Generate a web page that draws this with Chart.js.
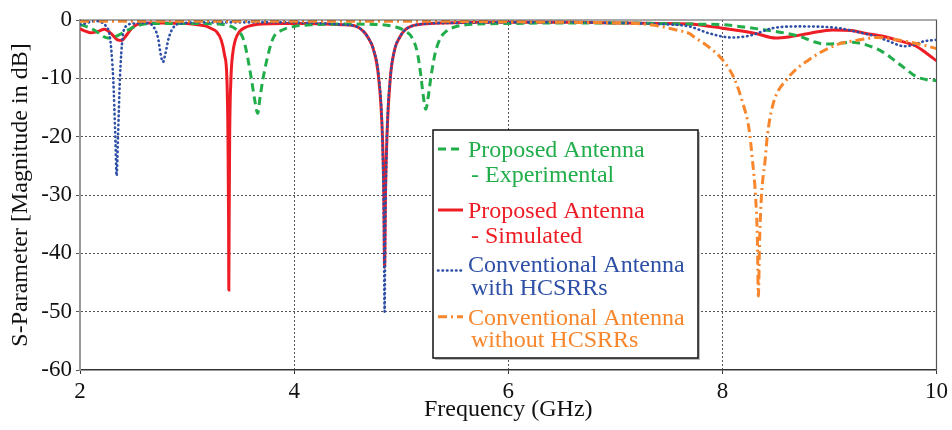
<!DOCTYPE html>
<html>
<head>
<meta charset="utf-8">
<title>S-Parameter</title>
<script src="https://cdn.jsdelivr.net/npm/chart.js@4/dist/chart.umd.min.js"></script>
<style>
    body { margin: 0; background: #fff; }
    canvas { display: block; }
</style>
</head>
<body>
<canvas id="sparam-chart" width="952" height="430"></canvas>
<script>
// frequency (GHz) / S11 (dB) for each antenna
var freqExp = [2.00, 2.07, 2.14, 2.20, 2.26, 2.32, 2.38, 2.45, 2.52, 2.60, 2.70, 2.90, 3.10, 3.30, 3.40, 3.47, 3.52, 3.55, 3.60, 3.63, 3.66, 3.68, 3.71, 3.77, 3.81, 3.87, 4.00, 4.20, 4.50, 4.80, 4.95, 5.03, 5.10, 5.15, 5.18, 5.21, 5.23, 5.25, 5.28, 5.32, 5.37, 5.43, 5.50, 5.70, 6.00, 6.50, 7.00, 7.40, 7.70, 8.00, 8.20, 8.40, 8.60, 8.72, 8.85, 8.95, 9.10, 9.20, 9.35, 9.50, 9.62, 9.72, 9.81, 9.90, 10.00];
var s11Exp = [-0.8, -1.2, -1.8, -2.6, -3.1, -2.9, -2.4, -1.7, -1.1, -0.7, -0.6, -0.6, -0.6, -0.7, -1.0, -1.8, -3.0, -5.0, -10.0, -13.5, -16.0, -13.5, -10.0, -5.0, -2.9, -1.9, -1.1, -0.8, -0.7, -0.8, -1.2, -1.8, -3.0, -5.5, -9.0, -13.5, -15.3, -13.5, -9.5, -5.5, -3.0, -1.8, -1.2, -0.7, -0.6, -0.5, -0.5, -0.6, -0.7, -0.8, -1.2, -1.7, -2.3, -2.8, -3.7, -4.1, -4.0, -3.8, -4.3, -5.5, -7.1, -8.5, -9.7, -10.2, -10.4];

var freqSim = [2.00, 2.05, 2.10, 2.16, 2.23, 2.29, 2.35, 2.39, 2.43, 2.48, 2.53, 2.60, 2.80, 3.00, 3.10, 3.17, 3.23, 3.275, 3.32, 3.35, 3.372, 3.382, 3.388, 3.390, 3.393, 3.398, 3.41, 3.425, 3.45, 3.49, 3.54, 3.585, 3.70, 3.90, 4.10, 4.30, 4.45, 4.58, 4.65, 4.69, 4.74, 4.79, 4.825, 4.838, 4.845, 4.853, 4.867, 4.898, 4.94, 4.985, 5.03, 5.09, 5.20, 5.40, 5.80, 6.20, 6.60, 7.00, 7.40, 7.69, 8.00, 8.31, 8.50, 8.62, 8.81, 9.03, 9.20, 9.34, 9.50, 9.62, 9.81, 9.90, 10.00];
var s11Sim = [-1.5, -1.9, -2.2, -2.0, -1.6, -2.3, -3.4, -3.5, -2.7, -1.5, -0.8, -0.5, -0.5, -0.6, -0.8, -1.0, -1.5, -2.0, -3.5, -6.0, -10.0, -20.0, -35.0, -46.3, -35.0, -20.0, -10.0, -6.0, -3.5, -2.0, -1.3, -1.0, -0.7, -0.6, -0.6, -0.7, -0.8, -1.1, -2.0, -3.0, -5.0, -10.0, -20.0, -30.0, -42.4, -30.0, -20.0, -10.0, -5.0, -3.0, -1.8, -1.1, -0.7, -0.5, -0.4, -0.4, -0.4, -0.5, -0.6, -0.7, -1.4, -2.3, -3.1, -2.9, -2.3, -1.7, -1.8, -2.3, -2.8, -3.4, -4.5, -5.6, -7.0];

var freqWith = [2.00, 2.05, 2.10, 2.15, 2.20, 2.24, 2.28, 2.31, 2.33, 2.342, 2.355, 2.373, 2.398, 2.435, 2.50, 2.58, 2.64, 2.68, 2.728, 2.755, 2.775, 2.795, 2.83, 2.885, 2.95, 3.10, 3.40, 3.80, 4.30, 4.45, 4.58, 4.65, 4.69, 4.74, 4.792, 4.824, 4.838, 4.845, 4.852, 4.867, 4.898, 4.94, 4.985, 5.03, 5.09, 5.20, 5.50, 6.00, 6.50, 7.00, 7.40, 7.69, 7.88, 8.09, 8.25, 8.47, 8.72, 9.09, 9.25, 9.43, 9.55, 9.70, 9.78, 9.87, 10.00];
var s11With = [-0.8, -0.6, -0.3, -0.2, -0.4, -1.0, -3.0, -10.0, -20.0, -26.7, -20.0, -10.0, -3.0, -1.0, -0.6, -0.5, -0.6, -1.0, -3.0, -6.0, -7.2, -6.0, -3.0, -1.0, -0.6, -0.4, -0.4, -0.4, -0.6, -0.8, -1.1, -2.0, -3.0, -5.0, -10.0, -20.0, -35.0, -50.0, -35.0, -20.0, -10.0, -5.0, -3.0, -1.8, -1.1, -0.7, -0.5, -0.4, -0.4, -0.5, -0.7, -1.1, -2.3, -3.0, -2.7, -1.4, -1.1, -1.4, -2.0, -2.8, -3.6, -4.5, -4.3, -3.7, -3.4];

var freqWithout = [2.00, 3.00, 4.00, 5.00, 6.00, 6.60, 7.00, 7.32, 7.57, 7.69, 7.75, 7.85, 8.00, 8.11, 8.19, 8.25, 8.28, 8.31, 8.327, 8.336, 8.348, 8.365, 8.40, 8.42, 8.468, 8.61, 8.81, 9.06, 9.25, 9.45, 9.60, 9.75, 9.90, 10.00];
var s11Without = [-0.2, -0.2, -0.2, -0.2, -0.3, -0.4, -0.5, -0.8, -1.7, -2.3, -3.1, -4.3, -6.8, -10.0, -14.2, -18.8, -23.9, -30.2, -37.6, -47.3, -37.6, -30.2, -23.9, -19.9, -14.8, -10.0, -6.8, -4.3, -3.5, -3.0, -3.3, -3.8, -4.4, -4.9];

var seriesLabels = [
    ['Proposed Antenna', '- Experimental'],
    ['Proposed Antenna', '- Simulated'],
    ['Conventional Antenna', 'with HCSRRs'],
    ['Conventional Antenna', 'without HCSRRs']
];
var seriesColors = ['#22ad4b', '#ee1d25', '#2d4fa6', '#f7862c'];
var xTicks = [2, 4, 6, 8, 10];
var yTicks = [0, -10, -20, -30, -40, -50, -60];

var serif = "'Liberation Serif', 'Times New Roman', serif";
var dashes = [[8, 5], [], [0.5, 4], [9, 4, 2, 4]];
var widths = [3, 3, 2.6, 3];

function toPoints(xs, ys) {
    return xs.map(function(x, i) { return { x: x, y: ys[i] }; });
}

function makeSet(index, xs, ys, order) {
    return {
        label: seriesLabels[index].join(' '),
        data: toPoints(xs, ys),
        borderColor: seriesColors[index],
        borderWidth: widths[index],
        borderDash: dashes[index],
        borderCapStyle: index === 2 ? 'round' : 'butt',
        pointRadius: 0,
        fill: false,
        cubicInterpolationMode: 'monotone',
        order: order
    };
}

// plot frame (top/right) and the boxed legend inside the chart
var frameLegend = {
    id: 'frameLegend',
    afterDraw: function(chart) {
        var c = chart.ctx;
        var a = chart.chartArea;
        c.save();
        c.strokeStyle = '#555';
        c.lineWidth = 1.2;
        c.beginPath();
        c.moveTo(a.left, a.top);
        c.lineTo(a.right, a.top);
        c.lineTo(a.right, a.bottom);
        c.stroke();

        var bx = 433, by = 130, bw = 265, bh = 228;
        c.fillStyle = '#bdbdbd';
        c.fillRect(bx + 2, by + 2, bw, bh);
        c.fillStyle = '#fff';
        c.fillRect(bx, by, bw, bh);
        c.strokeStyle = '#111';
        c.lineWidth = 1.5;
        c.strokeRect(bx, by, bw, bh);

        var baselines = [[156.7, 181.7], [218.3, 243.3], [271.7, 295], [325, 346.7]];
        var sampleY = [149, 210, 270.5, 316.7];
        c.font = '24px ' + serif;
        c.textBaseline = 'alphabetic';
        c.textAlign = 'left';
        seriesLabels.forEach(function(lines, i) {
            c.strokeStyle = seriesColors[i];
            c.lineWidth = widths[i];
            c.setLineDash(dashes[i]);
            c.lineCap = i === 2 ? 'round' : 'butt';
            c.beginPath();
            c.moveTo(438, sampleY[i]);
            c.lineTo(463, sampleY[i]);
            c.stroke();
            c.setLineDash([]);
            c.fillStyle = seriesColors[i];
            c.fillText(lines[0], 468, baselines[i][0]);
            c.fillText(lines[1], 471, baselines[i][1]);
        });
        c.restore();
    }
};

var ctx = document.getElementById('sparam-chart').getContext('2d');
var chart = new Chart(ctx, {
    type: 'line',
    data: {
        datasets: [
            makeSet(0, freqExp, s11Exp, 2),
            makeSet(1, freqSim, s11Sim, 3),
            makeSet(2, freqWith, s11With, 1),
            makeSet(3, freqWithout, s11Without, 0)
        ]
    },
    options: {
        responsive: false,
        animation: false,
        layout: { padding: { top: 20, right: 15, left: 0, bottom: 0 } },
        plugins: {
            legend: { display: false },
            tooltip: { enabled: false }
        },
        scales: {
            x: {
                type: 'linear',
                min: 2,
                max: 10,
                afterBuildTicks: function(scale) {
                    scale.ticks = xTicks.map(function(v) { return { value: v }; });
                },
                afterFit: function(scale) { scale.height = 60; },
                ticks: {
                    color: '#111',
                    padding: 4,
                    maxRotation: 0,
                    font: { family: serif, size: 23 }
                },
                grid: {
                    color: function(c) {
                        return (c.tick && (c.tick.value === 2 || c.tick.value === 10)) ? 'rgba(0,0,0,0)' : '#555';
                    },
                    borderDash: [2, 2],
                    tickColor: '#333',
                    tickLength: 4,
                    lineWidth: 1
                },
                border: { color: '#333', width: 1.5, dash: [2, 2] },
                title: {
                    display: true,
                    text: 'Frequency (GHz)',
                    color: '#111',
                    font: { family: serif, size: 24 },
                    padding: { top: 0, bottom: 6 }
                }
            },
            y: {
                min: -60,
                max: 0,
                afterBuildTicks: function(scale) {
                    scale.ticks = yTicks.slice().reverse().map(function(v) { return { value: v }; });
                },
                afterFit: function(scale) { scale.width = 80; },
                ticks: {
                    color: '#111',
                    padding: 4,
                    font: { family: serif, size: 23 }
                },
                grid: {
                    color: function(c) {
                        return (c.tick && (c.tick.value === 0 || c.tick.value === -60)) ? 'rgba(0,0,0,0)' : '#555';
                    },
                    borderDash: [2, 2],
                    tickColor: '#555',
                    tickLength: 4,
                    lineWidth: 1
                },
                border: { color: '#999', width: 2, dash: [2, 2] },
                title: {
                    display: true,
                    text: 'S-Parameter [Magnitude in dB]',
                    color: '#111',
                    font: { family: serif, size: 24 },
                    padding: { top: 6, bottom: 0 }
                }
            }
        }
    },
    plugins: [frameLegend]
});
</script>
</body>
</html>
